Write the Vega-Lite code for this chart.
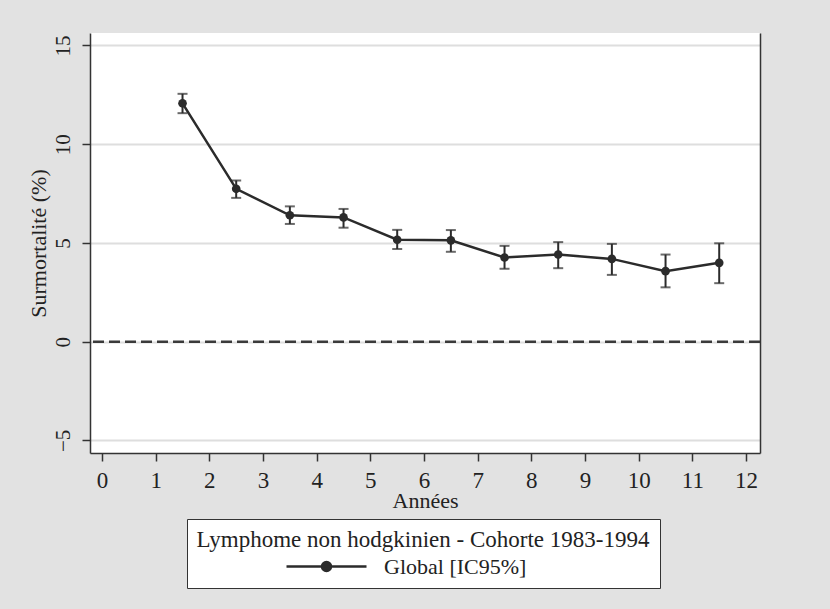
{
  "$schema": "https://vega.github.io/schema/vega-lite/v6.json",
  "width": 670,
  "height": 420,
  "autosize": {"type": "none"},
  "padding": {"left": 90, "top": 33, "right": 70, "bottom": 156},
  "background": "#e2e2e2",
  "config": {
    "view": {"fill": "white", "stroke": null},
    "font": "Liberation Serif",
    "axis": {
      "labelFont": "Liberation Serif",
      "titleFont": "Liberation Serif",
      "labelColor": "#222",
      "titleColor": "#222",
      "titleFontWeight": "normal",
      "domainColor": "#333",
      "domainWidth": 1.5,
      "tickColor": "#333",
      "tickWidth": 1.5,
      "tickSize": 8
    },
    "legend": {
      "labelFont": "Liberation Serif",
      "titleFont": "Liberation Serif"
    }
  },
  "datasets": {
    "surmort": [
      {"annee": 1.5, "val": 12.07, "lo": 11.57, "hi": 12.55, "serie": "Global [IC95%]"},
      {"annee": 2.5, "val": 7.74, "lo": 7.28, "hi": 8.16, "serie": "Global [IC95%]"},
      {"annee": 3.5, "val": 6.40, "lo": 5.96, "hi": 6.85, "serie": "Global [IC95%]"},
      {"annee": 4.5, "val": 6.29, "lo": 5.77, "hi": 6.72, "serie": "Global [IC95%]"},
      {"annee": 5.5, "val": 5.16, "lo": 4.69, "hi": 5.66, "serie": "Global [IC95%]"},
      {"annee": 6.5, "val": 5.13, "lo": 4.55, "hi": 5.65, "serie": "Global [IC95%]"},
      {"annee": 7.5, "val": 4.26, "lo": 3.69, "hi": 4.85, "serie": "Global [IC95%]"},
      {"annee": 8.5, "val": 4.41, "lo": 3.72, "hi": 5.04, "serie": "Global [IC95%]"},
      {"annee": 9.5, "val": 4.19, "lo": 3.38, "hi": 4.95, "serie": "Global [IC95%]"},
      {"annee": 10.5, "val": 3.57, "lo": 2.75, "hi": 4.41, "serie": "Global [IC95%]"},
      {"annee": 11.5, "val": 3.99, "lo": 2.96, "hi": 4.98, "serie": "Global [IC95%]"}
    ],
    "reference": [{"ref": 0}]
  },
  "layer": [
    {
      "data": {"name": "reference"},
      "mark": {"type": "rule", "color": "#3a3a3a", "strokeWidth": 2.5, "strokeDash": [11, 5]},
      "encoding": {
        "y": {
          "field": "ref",
          "type": "quantitative",
          "scale": {"domain": [-5.64, 15.63], "nice": false, "zero": false},
          "axis": {"orient": "right", "labels": false, "ticks": false, "grid": false, "title": null, "domain": true}
        }
      }
    },
    {
      "data": {"name": "surmort"},
      "mark": {"type": "rule", "color": "#2b2b2b", "strokeWidth": 2},
      "encoding": {
        "x": {"field": "annee", "type": "quantitative"},
        "y": {"field": "lo", "type": "quantitative", "axis": null},
        "y2": {"field": "hi"}
      }
    },
    {
      "data": {"name": "surmort"},
      "mark": {"type": "tick", "orient": "horizontal", "color": "#2b2b2b", "size": 10, "thickness": 2},
      "encoding": {
        "x": {"field": "annee", "type": "quantitative"},
        "y": {"field": "lo", "type": "quantitative", "axis": null}
      }
    },
    {
      "data": {"name": "surmort"},
      "mark": {"type": "tick", "orient": "horizontal", "color": "#2b2b2b", "size": 10, "thickness": 2},
      "encoding": {
        "x": {"field": "annee", "type": "quantitative"},
        "y": {"field": "hi", "type": "quantitative", "axis": null}
      }
    },
    {
      "data": {"name": "surmort"},
      "mark": {"type": "line", "color": "#2b2b2b", "strokeWidth": 2.5},
      "encoding": {
        "x": {"field": "annee", "type": "quantitative"},
        "y": {"field": "val", "type": "quantitative", "axis": null}
      }
    },
    {
      "data": {"name": "surmort"},
      "mark": {"type": "point", "filled": true, "size": 75, "opacity": 1},
      "encoding": {
        "x": {
          "field": "annee",
          "type": "quantitative",
          "scale": {"domain": [-0.224, 12.26], "nice": false, "zero": false},
          "axis": {
            "values": [0, 1, 2, 3, 4, 5, 6, 7, 8, 9, 10, 11, 12],
            "grid": false,
            "title": "Années",
            "labelFont": "Liberation Serif",
            "titleFont": "Liberation Serif",
            "labelFontSize": 23,
            "titleFontSize": 22,
            "labelPadding": 8,
            "titlePadding": -2,
            "labelFlush": false,
            "labelOverlap": false
          }
        },
        "y": {
          "field": "val",
          "type": "quantitative",
          "axis": {
            "orient": "left",
            "values": [-5, 0, 5, 10, 15],
            "grid": true,
            "gridColor": "#dedede",
            "gridWidth": 2,
            "title": "Surmortalité (%)",
            "labelFont": "Liberation Serif",
            "titleFont": "Liberation Serif",
            "labelAngle": -90,
            "labelFontSize": 21,
            "titleFontSize": 22,
            "labelPadding": 9,
            "titlePadding": 2,
            "labelFlush": false
          }
        },
        "color": {
          "field": "serie",
          "type": "nominal",
          "scale": {"range": ["#2b2b2b"]},
          "legend": {
            "orient": "none",
            "legendX": 97,
            "legendY": 486,
            "direction": "vertical",
            "title": "Lymphome non hodgkinien - Cohorte 1983-1994",
            "titleLimit": 700,
            "titleFontSize": 23,
            "titleFontWeight": "normal",
            "titleColor": "#222",
            "titleAnchor": "middle",
            "titlePadding": 3,
            "labelFontSize": 22,
            "labelLimit": 400,
            "labelColor": "#222",
            "symbolType": "M-4,0H4M0.45,0A0.45,0.45,0,1,1,-0.45,0A0.45,0.45,0,1,1,0.45,0Z",
            "symbolSize": 400,
            "symbolFillColor": "#2b2b2b",
            "symbolStrokeColor": "#2b2b2b",
            "symbolStrokeWidth": 2.5,
            "symbolOffset": -4,
            "labelOffset": 46,
            "fillColor": "white",
            "strokeColor": "#333",
            "padding": 10
          }
        }
      }
    }
  ],
  "resolve": {"axis": {"y": "independent"}}
}
